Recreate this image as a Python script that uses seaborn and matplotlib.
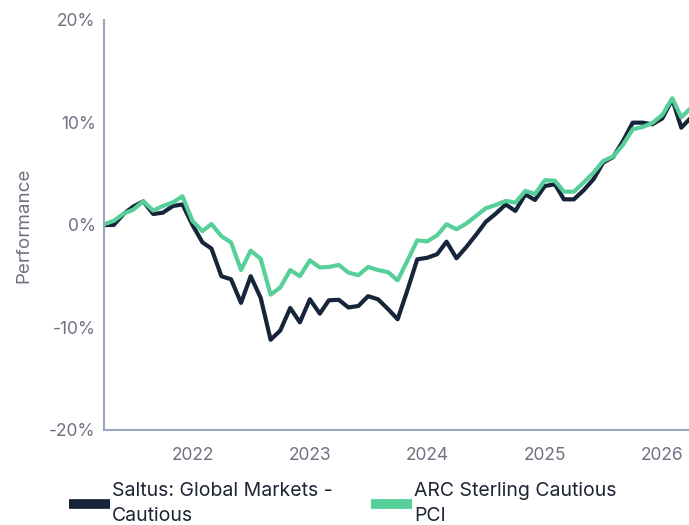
import matplotlib
matplotlib.use("Agg")
import matplotlib.pyplot as plt
import matplotlib.dates as mdates
import seaborn as sns
import pandas as pd

# monthly performance (%)
dates = pd.date_range("2021-04-01", periods=61, freq="MS")

saltus = [
    0.0, 0.0, 1.07, 1.8, 2.3, 1.07, 1.2, 1.85, 2.0, 0.0,
    -1.7, -2.3, -5.0, -5.3, -7.6, -5.0, -7.1, -11.2, -10.3, -8.1,
    -9.5, -7.25, -8.65, -7.35, -7.3, -8.05, -7.9, -6.95, -7.25, -8.2,
    -9.2, -6.3, -3.35, -3.2, -2.85, -1.63, -3.25, -2.17, -0.95, 0.3,
    1.1, 2.0, 1.37, 2.98, 2.44, 3.8, 3.97, 2.5, 2.5, 3.37,
    4.46, 6.08, 6.63, 8.2, 9.98, 9.98, 9.82, 10.39, 12.26, 9.49,
    10.5,
]
arc = [
    0.07, 0.4, 1.1, 1.5, 2.3, 1.4, 1.85, 2.2, 2.8, 0.4,
    -0.6, 0.1, -1.1, -1.7, -4.4, -2.5, -3.3, -6.8, -6.1, -4.4,
    -5.0, -3.45, -4.15, -4.1, -3.9, -4.65, -4.9, -4.1, -4.4, -4.6,
    -5.4, -3.45, -1.5, -1.6, -1.0, 0.07, -0.42, 0.13, 0.88, 1.63,
    1.95, 2.34, 2.18, 3.32, 3.02, 4.36, 4.32, 3.25, 3.25, 4.13,
    5.1, 6.24, 6.68, 7.83, 9.34, 9.56, 9.95, 10.73, 12.36, 10.5,
    11.45,
]
series_names = ["Saltus: Global Markets -\nCautious", "ARC Sterling Cautious\nPCI"]
colors = ["#17253a", "#57cf99"]
y_ticks = [-20, -10, 0, 10, 20]

df = pd.concat([
    pd.DataFrame({"date": dates, "perf": saltus, "series": series_names[0]}),
    pd.DataFrame({"date": dates, "perf": arc, "series": series_names[1]}),
])

sns.set_style("white")
plt.rcParams["font.family"] = ["Inter", "DejaVu Sans"]

fig = plt.figure(figsize=(6.89, 5.25), dpi=100)
ax = fig.add_axes([0.151, 0.181, 0.849, 0.781])

sns.lineplot(data=df, x="date", y="perf", hue="series", hue_order=series_names,
             palette=colors, linewidth=3, ax=ax, legend=False)

ax.set_xlim(dates[0], pd.Timestamp("2026-03-25"))
ax.set_ylim(-20, 20)
ax.set_yticks(y_ticks)
ax.set_yticklabels([f"{t}%" for t in y_ticks])
ax.xaxis.set_major_locator(mdates.YearLocator())
ax.xaxis.set_major_formatter(mdates.DateFormatter("%Y"))

tick_color = "#6e7281"
spine_color = "#9aa6c0"
ax.tick_params(axis="both", length=0, labelsize=12.5, labelcolor=tick_color)
ax.tick_params(axis="x", pad=12)
ax.tick_params(axis="y", pad=6)
ax.set_xlabel("")
ax.set_ylabel("Performance", fontsize=13.5, color=tick_color, labelpad=12)

for side in ["top", "right"]:
    ax.spines[side].set_visible(False)
for side in ["left", "bottom"]:
    ax.spines[side].set_color(spine_color)
    ax.spines[side].set_linewidth(1.5)

handles = [plt.Line2D([], [], color=c, linewidth=7, solid_capstyle="butt") for c in colors]
leg = fig.legend(handles, series_names, loc="lower left", bbox_to_anchor=(0.0945, -0.0076),
                 ncol=2, frameon=False, fontsize=14, handlelength=2.1, handletextpad=0.1,
                 columnspacing=2.0, borderaxespad=0, borderpad=0.2, labelcolor="#1e2433")
for t in leg.get_texts():
    t.set_linespacing(1.53)

fig.savefig("out.png", dpi=100)
